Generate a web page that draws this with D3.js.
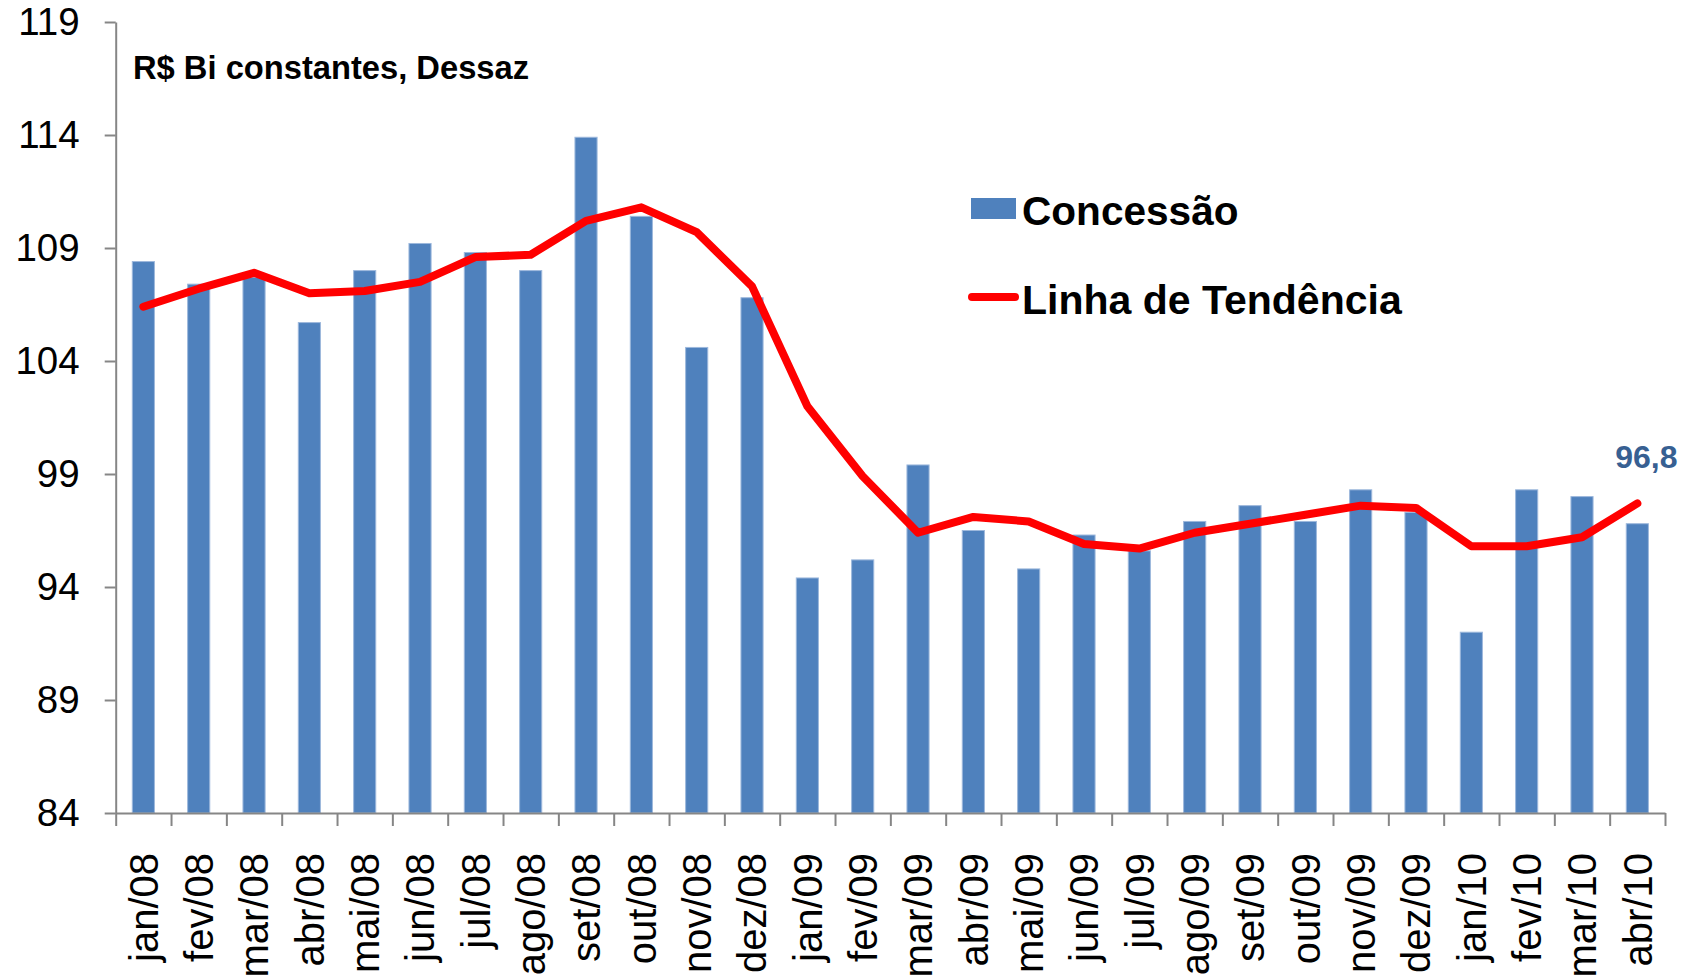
<!DOCTYPE html>
<html>
<head>
<meta charset="utf-8">
<script src="https://cdn.jsdelivr.net/npm/d3@7"></script>
<style>
  body { margin: 0; background: #fff; }
  svg { display: block; font-family: "Liberation Sans", Arial, sans-serif; }
</style>
</head>
<body>
<svg id="chart" width="1684" height="979"></svg>
<script>
// months on the x axis
var months = ["jan/08", "fev/08", "mar/08", "abr/08", "mai/08", "jun/08", "jul/08", "ago/08",
    "set/08", "out/08", "nov/08", "dez/08", "jan/09", "fev/09", "mar/09", "abr/09", "mai/09",
    "jun/09", "jul/09", "ago/09", "set/09", "out/09", "nov/09", "dez/09", "jan/10", "fev/10",
    "mar/10", "abr/10"];

// Concessão (bars)
var concessao = [108.4, 107.4, 107.7, 105.7, 108.0, 109.2, 108.8, 108.0, 113.9, 110.4, 104.6, 106.8,
    94.4, 95.2, 99.4, 96.5, 94.8, 96.3, 95.6, 96.9, 97.6, 96.9, 98.3, 97.3, 92.0, 98.3, 98.0, 96.8];

// Linha de Tendência (red line)
var tendencia = [106.4, 107.2, 107.9, 107.0, 107.1, 107.5, 108.6, 108.7, 110.2, 110.8, 109.7, 107.3,
    102.0, 98.9, 96.4, 97.1, 96.9, 95.9, 95.7, 96.4, 96.8, 97.2, 97.6, 97.5, 95.8, 95.8, 96.2, 97.7];

var yTicks = [84, 89, 94, 99, 104, 109, 114, 119];
var lastLabel = "96,8";

var svg = d3.select("#chart");
const margins = {top: 22, right: 19, bottom: 166, left: 115.7};
var width = 1684, height = 979;
var plotBottom = height - margins.bottom;   // 813
var plotRight = width - margins.right;      // 1665

var xScale = d3.scaleBand()
    .domain(months)
    .range([margins.left, plotRight])
    .paddingInner(0.6)
    .paddingOuter(0.3);

// band edges, for the tick marks between months
var edgeScale = d3.scaleLinear()
    .domain([0, months.length])
    .range([margins.left, plotRight]);

var yScale = d3.scaleLinear()
    .domain([84, 119])
    .range([plotBottom, margins.top]);

// bars
svg.append("g").selectAll("rect")
    .data(concessao).enter()
    .append("rect")
    .attr("x", (d, i) => xScale(months[i]))
    .attr("y", d => yScale(d))
    .attr("width", xScale.bandwidth())
    .attr("height", d => plotBottom - yScale(d))
    .attr("fill", "#4f81bd")
    .attr("stroke", "#9db8dc")
    .attr("stroke-width", 1);

// y axis
var yAxis = svg.append("g")
    .attr("transform", "translate(" + margins.left + ",0)")
    .call(d3.axisLeft(yScale).tickValues(yTicks).tickSize(11).tickSizeOuter(0).tickPadding(25));
yAxis.selectAll("text")
    .attr("font-size", "38.5px")
    .attr("font-family", "'Liberation Sans', Arial, sans-serif")
    .attr("fill", "#000");

// x axis: tick marks on the band edges
var xEdges = svg.append("g")
    .attr("transform", "translate(0," + plotBottom + ")")
    .call(d3.axisBottom(edgeScale).tickValues(d3.range(months.length + 1)).tickSize(13).tickSizeOuter(0).tickFormat(""));

// x axis labels
var xLabels = svg.append("g")
    .attr("transform", "translate(0," + plotBottom + ")")
    .call(d3.axisBottom(xScale).tickSize(0).tickPadding(0));
xLabels.select(".domain").remove();
xLabels.selectAll("text")
    .attr("font-size", "40px")
    .attr("font-family", "'Liberation Sans', Arial, sans-serif")
    .attr("fill", "#000")
    .attr("text-anchor", "end")
    .attr("transform", "translate(0,40) rotate(-90)")
    .attr("x", 0)
    .attr("y", 0)
    .attr("dy", "0.36em");

svg.selectAll(".domain, .tick line")
    .attr("stroke", "#868686")
    .attr("stroke-width", 2);

// trend line
svg.append("path")
    .datum(tendencia)
    .attr("fill", "none")
    .attr("stroke", "#ff0000")
    .attr("stroke-width", 8)
    .attr("stroke-linejoin", "round")
    .attr("stroke-linecap", "round")
    .attr("d", d3.line()
        .x((d, i) => xScale(months[i]) + xScale.bandwidth() / 2)
        .y(d => yScale(d)));

// value label at the last point
var lastIdx = tendencia.length - 1;
svg.append("text")
    .attr("x", xScale(months[lastIdx]) + xScale.bandwidth() / 2 + 9)
    .attr("y", yScale(tendencia[lastIdx]) - 35)
    .attr("text-anchor", "middle")
    .attr("font-size", "32px")
    .attr("font-weight", "bold")
    .attr("fill", "#376092")
    .text(lastLabel);

// unit note
svg.append("text")
    .attr("x", 133)
    .attr("y", 79)
    .attr("font-size", "32.7px")
    .attr("font-weight", "bold")
    .attr("fill", "#000")
    .text("R$ Bi constantes, Dessaz");

// legend
var legend = svg.append("g");
legend.append("rect")
    .attr("x", 971).attr("y", 198)
    .attr("width", 45).attr("height", 21)
    .attr("fill", "#4f81bd");
legend.append("text")
    .attr("x", 1022).attr("y", 225)
    .attr("font-size", "40.6px").attr("font-weight", "bold")
    .text("Concessão");
legend.append("line")
    .attr("x1", 972).attr("x2", 1015)
    .attr("y1", 297).attr("y2", 297)
    .attr("stroke", "#ff0000").attr("stroke-width", 8)
    .attr("stroke-linecap", "round");
legend.append("text")
    .attr("x", 1022).attr("y", 314)
    .attr("font-size", "41px").attr("font-weight", "bold")
    .text("Linha de Tendência");
</script>
</body>
</html>
